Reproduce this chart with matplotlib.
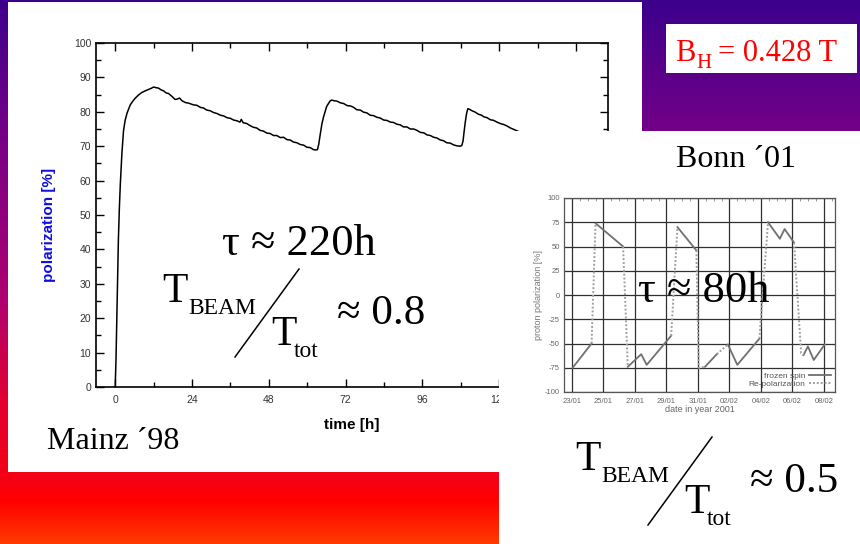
import numpy as np
import matplotlib
matplotlib.use("Agg")
import matplotlib.pyplot as plt
from matplotlib.patches import Rectangle
from matplotlib.lines import Line2D
from matplotlib.ticker import MultipleLocator

plt.rcParams['axes.unicode_minus'] = False

W, H = 860, 544
SERIF = 'Liberation Serif'
SANS = 'Liberation Sans'


def fx(x):
    return x / W


def fy(y):
    return 1 - y / H


# Mainz '98: polarization [%] vs time [h]
mainz_points = [
    (0, 0), (0.25, 8), (0.5, 20), (0.75, 32), (1.0, 43), (1.3, 52), (1.6, 59),
    (2.1, 68), (2.6, 74.5), (3.1, 77.5), (3.7, 79.6), (4.7, 82), (5.5, 83.1),
    (6.3, 84), (7.3, 84.9), (8.3, 85.6), (9.4, 86.1), (10.4, 86.5), (11.2, 86.8),
    (12.0, 87.2), (12.8, 87.0), (13.5, 86.9), (14.3, 86.4), (15.1, 86.1),
    (15.9, 85.5), (16.7, 85.3), (17.7, 84.5), (18.7, 83.6), (19.4, 83.7),
    (20.1, 84.0), (20.9, 83.2), (21.9, 82.7), (23.0, 82.5), (24.5, 82.0),
    (25.5, 81.9), (26.6, 81.3), (27.6, 81.1), (28.6, 80.5), (29.7, 80.3),
    (30.7, 79.8), (31.8, 79.5), (32.9, 79.0), (33.9, 78.8), (34.9, 78.3),
    (36.0, 78.1), (37.0, 77.6), (38.0, 77.4), (39.0, 77.0), (39.4, 77.8),
    (40.0, 76.8), (41.1, 76.6), (42.1, 76.0), (43.2, 75.5), (44.2, 75.3),
    (45.3, 74.6), (46.3, 74.4), (47.4, 73.8), (48.4, 73.7), (49.5, 73.1),
    (50.5, 73.1), (51.6, 72.5), (52.6, 72.6), (53.7, 71.9), (54.7, 71.8),
    (55.7, 71.2), (56.8, 71.0), (57.8, 70.5), (58.9, 70.3), (59.9, 69.7),
    (60.9, 69.6), (62.0, 69.0), (62.5, 68.9), (63.2, 69.0), (63.6, 70.5),
    (64.0, 73), (64.6, 76.5), (65.1, 78.5), (65.6, 80.0), (66.1, 81.6),
    (66.7, 82.5), (67.2, 83.2), (67.7, 83.4), (68.5, 83.2), (69.3, 83.1),
    (70.4, 82.6), (71.4, 82.4), (72.5, 81.8), (73.5, 81.7), (74.5, 81.3),
    (75.5, 80.6), (76.6, 80.5), (77.6, 79.9), (78.6, 79.7), (79.7, 79.0),
    (80.7, 78.9), (81.8, 78.4), (82.8, 78.2), (83.9, 77.6), (84.9, 77.5),
    (86.0, 77.0), (87.0, 76.9), (88.0, 76.4), (89.1, 76.2), (90.1, 75.6),
    (91.2, 75.6), (92.2, 75.0), (93.3, 75.0), (94.3, 74.6), (95.4, 74.0),
    (96.4, 73.9), (97.4, 73.3), (98.5, 73.1), (99.5, 72.6), (100.5, 72.4),
    (101.6, 71.8), (102.6, 71.6), (103.6, 71.0), (104.7, 70.9), (105.7, 70.4),
    (106.8, 70.1), (107.8, 70.0), (108.3, 70.2), (108.7, 71.5), (109.0, 74),
    (109.4, 77), (109.8, 79.5), (110.2, 80.9), (110.8, 80.7), (111.5, 80.3),
    (112.5, 79.9), (113.5, 79.3), (114.5, 79.0), (115.3, 78.5), (116.2, 78.3),
    (117.2, 77.7), (118.3, 77.5), (119.3, 77.0), (120.3, 76.6), (121.4, 76.3),
    (122.4, 75.9), (123.5, 75.3), (124.5, 74.9), (125.5, 74.5), (126.5, 74.1),
]
mainz_t, mainz_p = zip(*mainz_points)
mainz_xticks = [0, 24, 48, 72, 96, 120, 144]
mainz_xlabels = ["0", "24", "48", "72", "96", "120", ""]  # 144 sits under the Bonn panel

# Bonn '01: proton polarization [%] vs days since 23/01
bonn_labels = ["23/01", "25/01", "27/01", "29/01", "31/01", "02/02", "04/02", "06/02", "08/02"]
frozen = [
    [(0.05, -75), (1.25, -50)],
    [(1.5, 74), (3.25, 50)],
    [(3.55, -74), (4.4, -61), (4.75, -72), (6.3, -42)],
    [(6.7, 70), (7.9, 46)],
    [(8.45, -74), (9.2, -61)],
    [(9.9, -51), (10.5, -72), (11.9, -45)],
    [(12.45, 75), (13.2, 58), (13.5, 68), (14.1, 54)],
    [(14.7, -62), (14.98, -53), (15.35, -67), (16.05, -51)],
]
repol = [
    [(1.25, -50), (1.5, 74)],
    [(3.25, 50), (3.55, -74)],
    [(6.3, -42), (6.7, 70)],
    [(7.9, 46), (8.05, -75), (8.45, -74)],
    [(9.2, -61), (9.9, -51)],
    [(11.9, -45), (12.45, 75)],
    [(14.1, 54), (14.55, -60), (14.7, -62)],
]

fig = plt.figure(figsize=(8.6, 5.44), dpi=100)

# slide background gradient
bg = fig.add_axes([0, 0, 1, 1], zorder=-3)
stop_y = [0, 130, 300, 400, 480, 500, 544]
stop_c = [(60, 0, 140), (115, 0, 135), (175, 0, 110), (225, 0, 50),
          (245, 0, 20), (255, 0, 0), (255, 60, 0)]
rows = np.arange(H)
grad = np.stack([np.interp(rows, stop_y, [c[i] for c in stop_c]) for i in range(3)], axis=-1) / 255
bg.imshow(grad[:, None, :], aspect='auto', extent=[0, 1, 0, 1])
bg.axis('off')

fig.add_artist(Rectangle((fx(8), fy(472)), (642 - 8) / W, (472 - 2) / H,
                         transform=fig.transFigure, fc='white', ec='none', zorder=-2))
fig.add_artist(Rectangle((fx(499), 0), (W - 499) / W, (H - 131) / H,
                         transform=fig.transFigure, fc='white', ec='none', zorder=1))

# Mainz plot
ax1 = fig.add_axes([fx(96), fy(387), (608 - 96) / W, (387 - 43) / H], zorder=0)
ax1.set_facecolor('none')
ax1.plot(mainz_t, mainz_p, color='black', lw=1.1)
ax1.set_xlim(-6, 154)
ax1.set_ylim(0, 100)
ax1.set_xticks(mainz_xticks)
ax1.set_xticklabels(mainz_xlabels)
ax1.set_yticks(range(0, 101, 10))
ax1.xaxis.set_minor_locator(MultipleLocator(12))
ax1.yaxis.set_minor_locator(MultipleLocator(5))
ax1.tick_params(which='both', direction='in', top=True, right=True,
                labelsize=7.5, labelcolor='#333', width=1)
ax1.tick_params(which='major', length=6)
ax1.tick_params(which='minor', length=3.5)
ax1.tick_params(axis='x', pad=6)
for lab in ax1.get_xticklabels() + ax1.get_yticklabels():
    lab.set_fontfamily(SANS)
for s in ax1.spines.values():
    s.set_linewidth(1.2)
fig.text(fx(49), fy(225), "polarization [%]", rotation=90, ha='center', va='center',
         color='#1010e0', fontsize=11, fontweight='bold', family=SANS)
fig.text(fx(352), fy(425), "time [h]", ha='center', va='center',
         color='black', fontsize=11, fontweight='bold', family=SANS)

# Bonn plot
ax2 = fig.add_axes([fx(564), fy(392), (835 - 564) / W, (392 - 198) / H], zorder=2)
ax2.set_facecolor('white')
for seg in frozen:
    d, v = zip(*seg)
    ax2.plot(d, v, color='#707070', lw=1.3, zorder=3)
for seg in repol:
    d, v = zip(*seg)
    ax2.plot(d, v, color='#a0a0a0', lw=1.4, ls=(0, (1, 1)), zorder=3)
ax2.set_xlim(-0.5, 16.7)
ax2.set_ylim(-100, 100)
ax2.set_xticks(range(0, 17, 2))
ax2.set_xticklabels(bonn_labels)
ax2.set_yticks(range(-100, 101, 25))
ax2.xaxis.set_minor_locator(MultipleLocator(0.5))
ax2.grid(True, which='major', color='#303030', lw=0.9)
ax2.set_axisbelow(True)
ax2.tick_params(which='major', length=0, labelsize=5.5, labelcolor='#666')
ax2.tick_params(axis='x', which='major', pad=4)
ax2.tick_params(axis='y', which='major', pad=3)
ax2.tick_params(which='minor', direction='in', top=True, bottom=False, length=2.5, color='#888')
for lab in ax2.get_xticklabels() + ax2.get_yticklabels():
    lab.set_fontfamily(SANS)
for s in ax2.spines.values():
    s.set_color('#555')
    s.set_linewidth(0.9)
ax2.set_xlabel("date in year 2001", fontsize=6.5, color='#666', family=SANS, labelpad=0.5)
ax2.set_ylabel("proton polarization [%]", fontsize=6.5, color='#777', family=SANS, labelpad=1)
handles = [Line2D([], [], color='#707070', lw=1.3),
           Line2D([], [], color='#a0a0a0', lw=1.4, ls=(0, (1, 1)))]
leg = ax2.legend(handles, ["frozen spin", "Re-polarization"], loc='lower right',
                 markerfirst=False, frameon=False, handlelength=2.6,
                 labelspacing=0.05, borderaxespad=0.1, handletextpad=0.5,
                 prop={'family': SANS, 'size': 6})
for t in leg.get_texts():
    t.set_color('#555')

# slide annotations
fig.text(fx(47), fy(449), "Mainz \u00b498", family=SERIF, fontsize=23, va='baseline', zorder=5)
fig.text(fx(676), fy(167), "Bonn \u00b401", family=SERIF, fontsize=23, va='baseline', zorder=5)
fig.text(fx(222), fy(255), "\u03c4 \u2248 220h", family=SERIF, fontsize=32, va='baseline', zorder=5)
fig.text(fx(638), fy(302), "\u03c4 \u2248 80h", family=SERIF, fontsize=32, va='baseline', zorder=5)


def beam_ratio(x0, y0, value):
    # x0, y0: left and baseline of the big T
    fig.text(fx(x0), fy(y0), "T", family=SERIF, fontsize=30, va='baseline', zorder=5)
    fig.text(fx(x0 + 26), fy(y0 + 12), "BEAM", family=SERIF, fontsize=17, va='baseline', zorder=5)
    fig.add_artist(Line2D([fx(x0 + 137), fx(x0 + 73)], [fy(y0 - 33), fy(y0 + 55)],
                          color='black', lw=1.1, zorder=5))
    fig.text(fx(x0 + 109), fy(y0 + 43), "T", family=SERIF, fontsize=30, va='baseline', zorder=5)
    fig.text(fx(x0 + 132), fy(y0 + 55), "tot", family=SERIF, fontsize=17, va='baseline', zorder=5)
    fig.text(fx(x0 + 175), fy(y0 + 22), "\u2248 " + value, family=SERIF, fontsize=31,
             va='baseline', zorder=5)


beam_ratio(162, 302, "0.8")
beam_ratio(575, 470, "0.5")

# field box
fig.add_artist(Rectangle((fx(666), fy(73)), (857 - 666) / W, (73 - 24) / H,
                         transform=fig.transFigure, fc='white', ec='none', zorder=4))
fig.text(fx(675), fy(61), "B", family=SERIF, fontsize=22, color='red', va='baseline', zorder=5)
fig.text(fx(696), fy(68), "H", family=SERIF, fontsize=15, color='red', va='baseline', zorder=5)
fig.text(fx(718), fy(61), "= 0.428 T", family=SERIF, fontsize=22, color='red', va='baseline', zorder=5)

fig.savefig("out.png", dpi=100)
